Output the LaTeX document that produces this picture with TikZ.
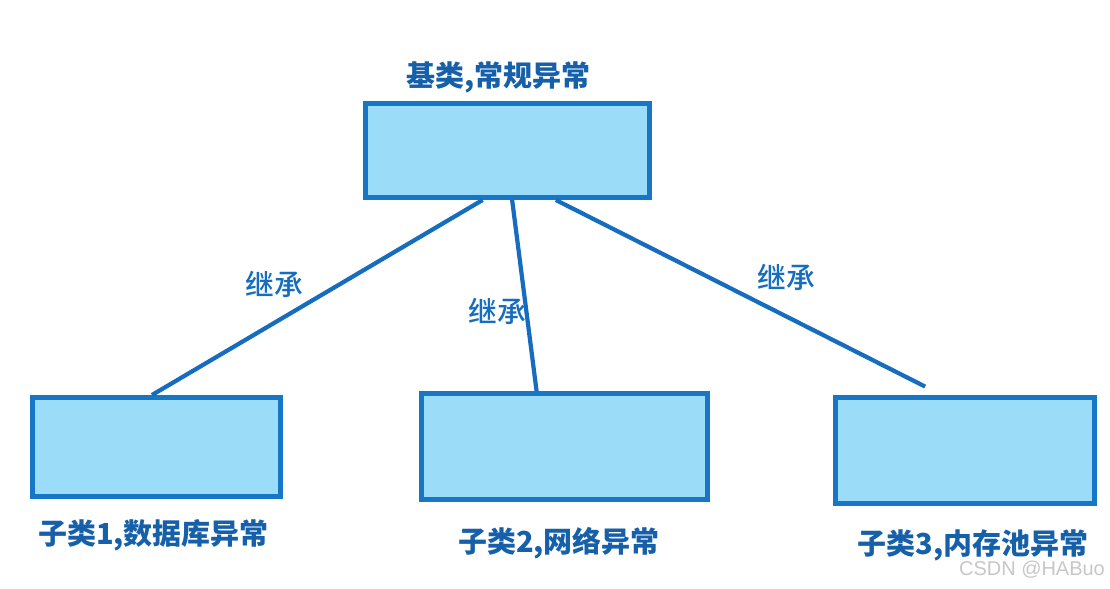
\documentclass[tikz,border=0pt]{standalone}
\usepackage{fontspec}
\newfontfamily\cjk{Noto Sans CJK SC}
\newfontfamily\cjkmed{Noto Sans CJK SC}[UprightFont={* Medium}]
\newfontfamily\marksans{Liberation Sans}
\usetikzlibrary{calc}
\definecolor{frame}{RGB}{24,118,198}
\definecolor{sky}{RGB}{155,221,249}
\definecolor{navy}{RGB}{22,96,170}
\definecolor{wire}{RGB}{22,108,190}
\tikzset{
  cls/.style={draw=frame,fill=sky,line width=3.5pt,inner sep=0pt},
  clsname/.style={font=\cjk\bfseries\fontsize{20.6}{24}\selectfont,text=navy,inner sep=0pt},
  rellabel/.style={font=\cjkmed\fontsize{20.4}{24}\selectfont,text=wire,inner sep=0pt},
  inherit/.style={draw=wire,line width=3pt},
}
\begin{document}
\begin{tikzpicture}[x=0.025cm,y=-0.025cm]
  \useasboundingbox[fill=white] (0,0) rectangle (1110,589);
  % classes
  \node[cls,minimum width=7.1cm,minimum height=2.35cm] (base) at (507.5,150.5) {};
  \node[cls,minimum width=6.2cm,minimum height=2.475cm] (sub1) at (156.5,447) {};
  \node[cls,minimum width=7.15cm,minimum height=2.65cm] (sub2) at (564.5,446.5) {};
  \node[cls,minimum width=6.475cm,minimum height=2.65cm] (sub3) at (965,450.5) {};
  % names
  \node[clsname] (tbase) at (498.5,77) {基类,常规异常};
  \node[clsname] (tsub1) at (153.5,535) {子类1,数据库异常};
  \node[clsname] (tsub2) at (559,543) {子类2,网络异常};
  \node[clsname] (tsub3) at (973,545) {子类3,内存池异常};
  % inheritance
  \draw[inherit] ($(base.south west)!0.414!(base.south east)$) -- ($(sub1.north west)!0.482!(sub1.north east)$);
  \draw[inherit] ($(base.south west)!0.516!(base.south east)$) -- ($(sub2.north west)!0.404!(sub2.north east)$);
  \draw[inherit] ($(base.south west)!0.667!(base.south east)$) -- ([yshift=6pt]$(sub3.north west)!0.349!(sub3.north east)$);
  \node[rellabel] (r1) at (274,284) {继承};
  \node[rellabel] (r2) at (497,311) {继承};
  \node[rellabel] (r3) at (786,277) {继承};
  \node[font=\marksans\fontsize{14.2}{16}\selectfont,text=black!22,inner sep=0pt] (mark) at (1032,570) {CSDN @HABuo};
\end{tikzpicture}
\end{document}
